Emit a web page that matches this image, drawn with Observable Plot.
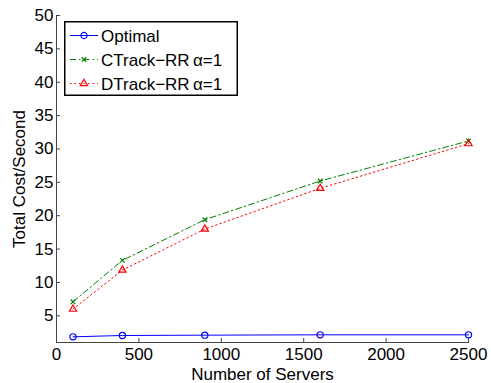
<!DOCTYPE html>
<html>
<head>
<meta charset="utf-8">
<script src="https://cdn.jsdelivr.net/npm/d3@7"></script>
<script src="https://cdn.jsdelivr.net/npm/@observablehq/plot@0.6"></script>
<style>
  html, body { margin: 0; padding: 0; background: #fff; }
  #wrap { position: relative; width: 491px; height: 383px; font-family: "Liberation Sans", Arial, sans-serif; }
  #legend { position: absolute; left: 64px; top: 21px; }
</style>
</head>
<body>
<div id="wrap"></div>
<script>
const servers = [100, 400, 900, 1600, 2500];
const optimal = [1.85, 2.05, 2.1, 2.15, 2.15];
const ctrack = [7.1, 13.3, 19.4, 25.2, 31.2];
const dtrack = [6.0, 11.85, 18.0, 24.1, 30.8];
const seriesNames = ["Optimal", "CTrack\u2212RR\u2009\u03b1=1", "DTrack\u2212RR\u2009\u03b1=1"];
const xTicks = [0, 500, 1000, 1500, 2000, 2500];
const yTicks = [5, 10, 15, 20, 25, 30, 35, 40, 45, 50];

const colors = ["#0000ff", "#008000", "#ff0000"];
const dashes = [null, "6,3,1.5,3", "1.5,3"];
const symbols = ["circle", "times", "triangle"];
const sizes = [3.1, 2.2, 2.7];
const values = [optimal, ctrack, dtrack];

const marks = [
  Plot.frame({anchor: "left", stroke: "#444"}),
  Plot.frame({anchor: "bottom", stroke: "#444"}),
  Plot.axisX({ticks: xTicks, tickSize: -4, tickPadding: 9, tickFormat: d => String(d), label: "Number of Servers", labelAnchor: "center", labelArrow: "none", labelOffset: 37, stroke: "#444"}),
  Plot.axisY({ticks: yTicks, tickSize: -4, tickPadding: 7, tickFormat: d => String(d), label: "Total Cost/Second", labelAnchor: "center", labelArrow: "none", labelOffset: 44, stroke: "#444"})
];
values.forEach((vals, i) => {
  const data = servers.map((s, j) => ({x: s, y: vals[j]}));
  marks.push(Plot.line(data, {x: "x", y: "y", stroke: colors[i], strokeWidth: 1, strokeDasharray: dashes[i]}));
  marks.push(Plot.dot(data, {x: "x", y: "y", stroke: colors[i], strokeWidth: 1.2, fill: "none", symbol: symbols[i], r: sizes[i]}));
});

const chart = Plot.plot({
  width: 491,
  height: 383,
  marginLeft: 56,
  marginRight: 23,
  marginTop: 15,
  marginBottom: 41,
  style: {fontFamily: "Liberation Sans, Arial, sans-serif", fontSize: "17px", color: "#000", background: "#fff", overflow: "visible"},
  x: {domain: [0, 2500]},
  y: {domain: [1, 50]},
  marks
});
document.getElementById("wrap").appendChild(chart);

// legend
const lw = 174, lh = 75;
const leg = d3.select("#wrap").append("svg").attr("id", "legend")
  .attr("width", lw).attr("height", lh);
leg.append("rect").attr("x", 0.75).attr("y", 0.75).attr("width", lw - 1.5).attr("height", lh - 1.5)
  .attr("fill", "#fff").attr("stroke", "#000").attr("stroke-width", 1.5);
seriesNames.forEach((name, i) => {
  const cy = 14.5 + i * 24;
  leg.append("line").attr("x1", 6).attr("x2", 34).attr("y1", cy).attr("y2", cy)
    .attr("stroke", colors[i]).attr("stroke-width", 1).attr("stroke-dasharray", dashes[i]);
  const sym = d3.symbol().type({circle: d3.symbolCircle, times: d3.symbolTimes, triangle: d3.symbolTriangle}[symbols[i]])
    .size(Math.PI * sizes[i] * sizes[i]);
  leg.append("path").attr("d", sym()).attr("transform", `translate(20,${cy})`)
    .attr("fill", "none").attr("stroke", colors[i]).attr("stroke-width", 1.2);
  leg.append("text").attr("x", 37).attr("y", cy).attr("dy", "0.36em")
    .attr("font-family", "Liberation Sans, Arial, sans-serif").attr("font-size", 17)
    .text(name);
});
</script>
</body>
</html>
